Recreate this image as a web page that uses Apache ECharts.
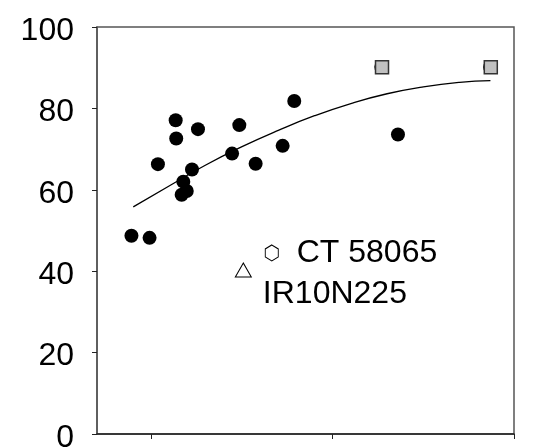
<!DOCTYPE html>
<html>
<head>
<meta charset="utf-8">
<script src="https://cdn.jsdelivr.net/npm/echarts@6/dist/echarts.min.js"></script>
<style>
  html, body { margin: 0; padding: 0; background: #fff; }
  #chart { width: 555px; height: 447px; }
</style>
</head>
<body>
<div id="chart"></div>
<script>
// Observed entries (x, y)
const obsX = [0.89, 0.99, 1.036, 1.134, 1.137, 1.257, 1.176, 1.195, 1.167, 1.224, 1.445, 1.485, 1.575, 1.724, 1.788, 2.360, 2.268, 2.868];
const obsY = [48.7, 48.2, 66.3, 77.1, 72.6, 74.9, 62.0, 59.7, 58.8, 65.0, 68.9, 75.9, 66.4, 70.8, 81.8, 73.6, 90.2, 90.2];

// Grey square entries
const sqX = [2.272, 2.872];
const sqY = [90.1, 90.1];

// Fitted trend curve
const trendX = [0.90, 1.10, 1.30, 1.50, 1.70, 1.90, 2.10, 2.30, 2.50, 2.70, 2.87];
const trendY = [55.8, 61.0, 66.1, 70.6, 74.6, 78.2, 81.2, 83.6, 85.3, 86.4, 86.8];

// Marked checks
const checkNames = ['CT 58065', 'IR10N225'];
const checkX = [1.664, 1.507];
const checkY = [44.5, 40.3];

// Axis ticks
const xTicks = [1, 2, 3];
const yTicks = [0, 20, 40, 60, 80, 100];

const zip = (xs, ys) => xs.map((x, i) => [x, ys[i]]);
const FONT = '"Liberation Sans", Arial, sans-serif';
const hexPath = 'path://M0,-1 L0.866,-0.5 L0.866,0.5 L0,1 L-0.866,0.5 L-0.866,-0.5 Z';

const chart = echarts.init(document.getElementById('chart'), null, { renderer: 'canvas' });
chart.setOption({
  animation: false,
  grid: {
    left: 97, right: 41, top: 27, bottom: 13,
    outerBoundsMode: 'none', containLabel: false,
    show: true, borderColor: '#555', borderWidth: 1.5, backgroundColor: 'transparent'
  },
  xAxis: {
    type: 'value', min: 0.7, max: 3,
    axisLine: { show: true, lineStyle: { color: '#222', width: 1.5 } },
    axisTick: { show: true, customValues: xTicks, length: 5, inside: false, lineStyle: { color: '#222', width: 1 } },
    axisLabel: { show: false },
    splitLine: { show: false }
  },
  yAxis: {
    type: 'value', min: 0, max: 100, interval: 20,
    axisLine: { show: true, lineStyle: { color: '#555', width: 1.5 } },
    axisTick: { show: true, length: 5, inside: false, lineStyle: { color: '#222', width: 1 } },
    axisLabel: {
      show: true, margin: 23, customValues: yTicks,
      formatter: v => '{t|' + v + '}',
      rich: { t: { color: '#000', fontSize: 32, fontFamily: FONT, padding: [8, 0, 0, 0] } }
    },
    splitLine: { show: false }
  },
  series: [
    {
      type: 'line', data: zip(trendX, trendY), smooth: true, showSymbol: false,
      lineStyle: { color: '#000', width: 1.3 }, z: 2, silent: true
    },
    {
      type: 'scatter', data: zip(obsX, obsY), symbol: 'circle', symbolSize: 14,
      itemStyle: { color: '#000', opacity: 1 }, z: 3
    },
    {
      type: 'scatter', data: zip(sqX, sqY), symbol: 'rect', symbolSize: 13,
      itemStyle: { color: '#c0c0c0', borderColor: '#333', borderWidth: 1.5, opacity: 1 }, z: 4
    },
    {
      type: 'scatter', data: [[checkX[0], checkY[0]]], symbol: hexPath, symbolSize: [13, 16],
      itemStyle: { color: '#fff', borderColor: '#000', borderWidth: 1, opacity: 1 }, z: 4,
      label: { show: true, position: 'right', distance: 18, formatter: checkNames[0],
        color: '#000', fontSize: 32, fontFamily: FONT }
    },
    {
      type: 'scatter', data: [[checkX[1], checkY[1]]], symbol: 'triangle', symbolSize: [16, 14],
      itemStyle: { color: '#fff', borderColor: '#000', borderWidth: 1, opacity: 1 }, z: 4,
      label: { show: true, position: 'right', distance: 11, offset: [0, 24], formatter: checkNames[1],
        color: '#000', fontSize: 32, fontFamily: FONT }
    }
  ]
});
</script>
</body>
</html>
